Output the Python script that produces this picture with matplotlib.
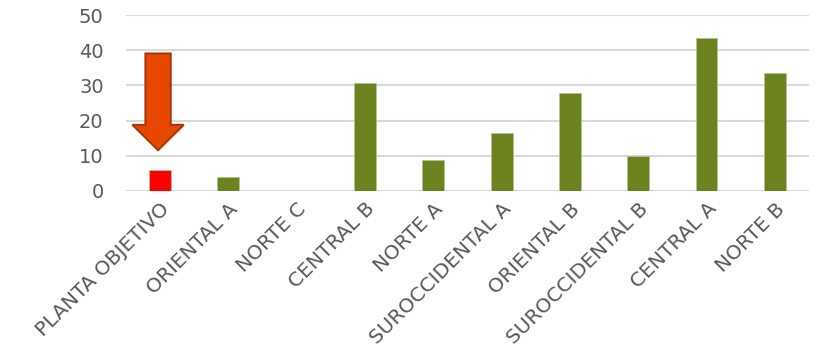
import matplotlib.pyplot as plt
from matplotlib.patches import FancyArrow

plantas = ['PLANTA OBJETIVO', 'ORIENTAL A', 'NORTE C', 'CENTRAL B', 'NORTE A',
           'SUROCCIDENTAL A', 'ORIENTAL B', 'SUROCCIDENTAL B', 'CENTRAL A', 'NORTE B']
valores = [6.0, 4.0, 0.0, 30.7, 8.8, 16.6, 28.0, 10.0, 43.6, 33.5]
colores = ['#FF0000'] + ['#6B821E'] * 9

plt.rcParams['font.family'] = ['DejaVu Sans']

fig = plt.figure(figsize=(8.18, 3.61), dpi=100)
ax = fig.add_axes([0.154, 0.471, 0.835, 0.487])

x = list(range(len(plantas)))
ax.bar(x, valores, 0.32, color=colores, edgecolor='#B5C38E', linewidth=0.6, zorder=3)

# flecha señalando la planta objetivo
ax.add_patch(FancyArrow(-0.03, 39.1, 0, -27.5, width=0.37, head_width=0.75,
                        head_length=7.2, length_includes_head=True,
                        facecolor='#E84700', edgecolor='#A8380C', linewidth=1.5, zorder=4))

ax.set_xlim(-0.5, len(plantas) - 0.5)
ax.set_ylim(0, 50)
ax.set_yticks(range(0, 51, 10))
ax.yaxis.grid(True, color='#D9D9D9', linewidth=1.5, zorder=0)
for s in ax.spines.values():
    s.set_visible(False)
ax.tick_params(length=0, labelsize=14, colors='#595959', pad=16, axis='y')
ax.tick_params(length=0, labelsize=14.5, colors='#595959', pad=6, axis='x')
ax.set_xticks(x)
ax.set_xticklabels(plantas, rotation=45, ha='right', rotation_mode='anchor')

fig.savefig('out.png', dpi=100)
